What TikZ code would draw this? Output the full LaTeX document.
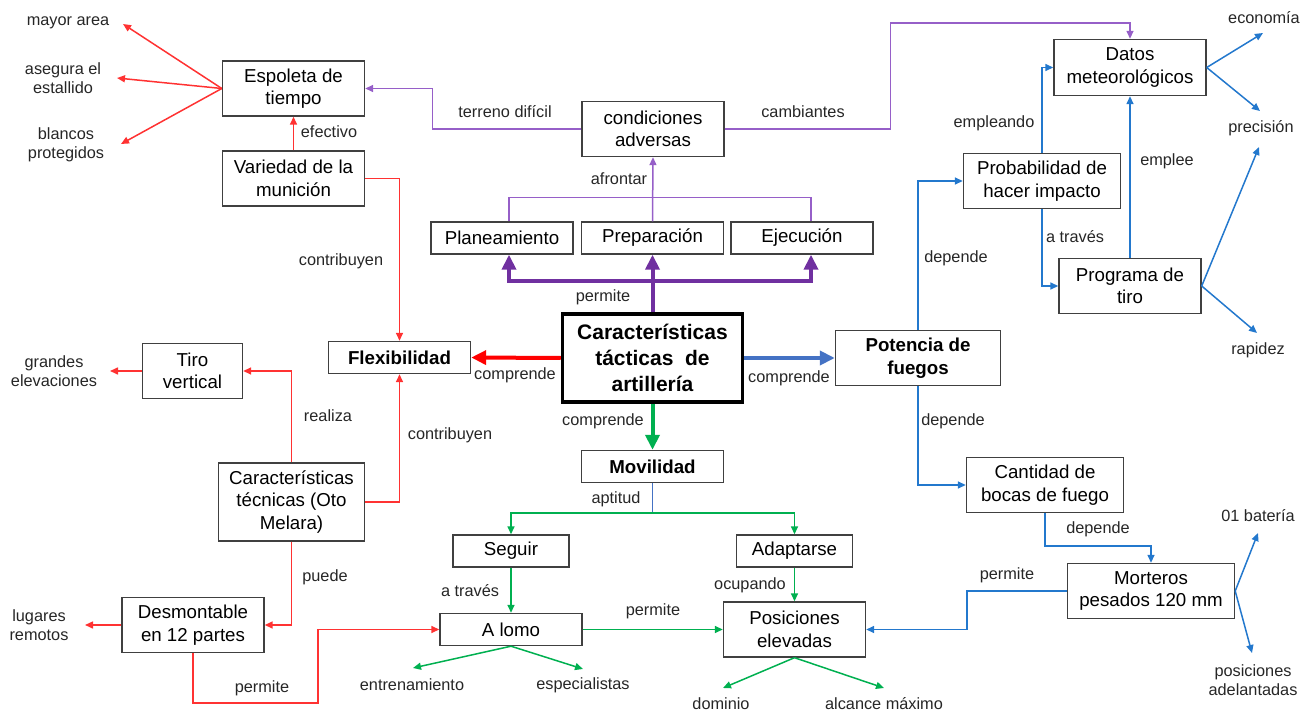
\documentclass[tikz,border=0pt]{standalone}
\usepackage{fontspec}
\setmainfont{Liberation Sans}
\usetikzlibrary{arrows.meta}

\definecolor{rojo}{RGB}{255,50,50}
\definecolor{rojofuerte}{RGB}{255,0,0}
\definecolor{lila}{RGB}{150,95,200}
\definecolor{morado}{RGB}{112,48,160}
\definecolor{azul}{RGB}{35,120,205}
\definecolor{azulfuerte}{RGB}{68,114,196}
\definecolor{verde}{RGB}{0,176,80}
\definecolor{borde}{RGB}{64,64,64}
\definecolor{texto}{RGB}{38,38,38}

\begin{document}
\begin{tikzpicture}[x=1pt, y=-1pt,
  box/.style={draw=borde, line width=1.4pt, align=center, inner sep=0pt,
    minimum width=142pt, minimum height=55pt, font=\fontsize{18.7}{22.5}\selectfont},
  slim/.style={box, minimum height=32pt},
  bold/.style={font=\fontsize{18.7}{22.5}\selectfont\bfseries},
  lbl/.style={text=texto, font=\fontsize{16.3}{19.5}\selectfont, align=center, inner sep=0pt},
  linea/.style={line width=1.5pt},
  flecha/.style={linea, -{Triangle[length=8pt,width=7pt]}},
  gruesa/.style={line width=4pt, -{Triangle[length=15pt,width=14pt]}},
]
  \useasboundingbox (0,0) rectangle (1312,711);

  % Boxes
  \node[box] (esp) at (293.5,88.5) {Espoleta de\\tiempo};
  \node[box] (var) at (293.5,178.5) {Variedad de la\\munición};
  \node[box] (cond) at (653,129) {condiciones\\adversas};
  \node[slim] (plan) at (502,238) {Planeamiento};
  \node[slim] (prep) at (652.5,238) {Preparación};
  \node[slim] (ejec) at (802,238) {Ejecución};
  \node[box, minimum width=180pt, minimum height=88pt, line width=3.5pt, draw=black,
    font=\fontsize{21}{26}\selectfont\bfseries] (cat) at (652.5,358)
    {Características\\tácticas\ \ de\\artillería};
  \node[slim, bold] (flex) at (399.5,357.5) {Flexibilidad};
  \node[box, bold, minimum width=165pt] (pot) at (918,358) {Potencia de\\fuegos};
  \node[slim, bold] (mov) at (652.5,466.5) {Movilidad};
  \node[box, minimum width=100pt] (tiro) at (192.5,371) {Tiro\\vertical};
  \node[box, minimum width=146pt, minimum height=78pt] (tec) at (291.5,502)
    {Características\\técnicas (Oto\\Melara)};
  \node[box] (des) at (193,625) {Desmontable\\en 12 partes};
  \node[slim, minimum width=116pt] (seg) at (511,551) {Seguir};
  \node[slim, minimum width=116pt] (ada) at (794.5,551) {Adaptarse};
  \node[slim] (lomo) at (511,629.5) {A lomo};
  \node[box] (pos) at (794.5,629.5) {Posiciones\\elevadas};
  \node[box, minimum width=157pt] (cant) at (1045,485) {Cantidad de\\bocas de fuego};
  \node[box, minimum width=167pt] (mort) at (1151,591) {Morteros\\pesados 120 mm};
  \node[box, minimum width=157pt] (prob) at (1042,181) {Probabilidad de\\hacer impacto};
  \node[box, minimum width=152pt, minimum height=56pt] (datos) at (1130,67.5) {Datos\\meteorológicos};
  \node[box] (prog) at (1130,286) {Programa de\\tiro};

  % Loose ends
  \node[lbl] (mayor) at (68,23) {mayor area};
  \node[lbl] (asegura) at (63,78) {asegura el\\estallido};
  \node[lbl] (blancos) at (66,145) {blancos\\protegidos};
  \node[lbl] (grandes) at (54,371) {grandes\\elevaciones};
  \node[lbl] (lugares) at (39,625) {lugares\\remotos};
  \node[lbl] (entren) at (412,685) {entrenamiento};
  \node[lbl] (espec) at (583,685) {especialistas};
  \node[lbl] (dominio) at (721,704) {dominio};
  \node[lbl] (alcance) at (884,704) {alcance máximo};
  \node[lbl] (bateria) at (1258,516) {01 batería};
  \node[lbl] (adelant) at (1253,680) {posiciones\\adelantadas};
  \node[lbl] (econ) at (1264,18) {economía};
  \node[lbl] (precis) at (1261,128) {precisión};
  \node[lbl] (rapidez) at (1258,350) {rapidez};

  \coordinate (tMayor) at (123,24);
  \coordinate (tAsegura) at (117,78);
  \coordinate (tBlancos) at (121,144);
  \coordinate (tGrandes) at (110,371);
  \coordinate (tLugares) at (85,625);
  \coordinate (tEntren) at (413,668);
  \coordinate (tEspec) at (583,669);
  \coordinate (tDominio) at (723,688);
  \coordinate (tAlcance) at (884,688);
  \coordinate (tBateria) at (1258,533);
  \coordinate (tAdelant) at (1252,653);
  \coordinate (tEcon) at (1263,33);
  \coordinate (tPrecisA) at (1260,111);
  \coordinate (tPrecisB) at (1259,147);
  \coordinate (tRapidez) at (1257,333);

  % Link labels
  \node[lbl] (lEfectivo) at (329,132) {efectivo};
  \node[lbl] (lContribA) at (341,261) {contribuyen};
  \node[lbl] (lContribB) at (450,435) {contribuyen};
  \node[lbl] (lRealiza) at (328,416) {realiza};
  \node[lbl] (lPuede) at (325,577) {puede};
  \node[lbl] (lPermiteA) at (262,688) {permite};
  \node[lbl] (lTerreno) at (505,112) {terreno difícil};
  \node[lbl] (lCambiantes) at (803,112) {cambiantes};
  \node[lbl] (lAfrontar) at (619,179) {afrontar};
  \node[lbl] (lPermiteB) at (603,297) {permite};
  \node[lbl] (lCompA) at (515,375) {comprende};
  \node[lbl] (lCompB) at (789,378) {comprende};
  \node[lbl] (lCompC) at (603,421) {comprende};
  \node[lbl] (lAptitud) at (616,499) {aptitud};
  \node[lbl] (lTravesA) at (470,591) {a través};
  \node[lbl] (lOcupando) at (750,585) {ocupando};
  \node[lbl] (lPermiteC) at (653,611) {permite};
  \node[lbl] (lPermiteD) at (1007,575) {permite};
  \node[lbl] (lDependeA) at (956,258) {depende};
  \node[lbl] (lDependeB) at (953,421) {depende};
  \node[lbl] (lDependeC) at (1098,529) {depende};
  \node[lbl] (lEmpleando) at (994,123) {empleando};
  \node[lbl] (lTravesB) at (1075,237) {a través};
  \node[lbl] (lEmplee) at (1167,161) {emplee};

  % Thick links from the centre
  \draw[gruesa, rojofuerte] (cat.west) -- (flex.east);
  \draw[gruesa, azulfuerte] (cat.east) -- (pot.west);
  \draw[gruesa, verde] (cat.south) -- (mov.north);
  \draw[gruesa, morado] (cat.north) -- (prep.south);
  \draw[line width=4pt, morado, {Triangle[length=15pt,width=14pt]}-{Triangle[length=15pt,width=14pt]}]
    ([xshift=7pt]plan.south) |- ([yshift=-26pt]prep.south) -| ([xshift=9pt]ejec.south);

  % Red links
  \draw[flecha, rojo] (var.north) -- (esp.south);
  \draw[flecha, rojo] (esp.west) -- (tMayor);
  \draw[flecha, rojo] (esp.west) -- (tAsegura);
  \draw[flecha, rojo] (esp.west) -- (tBlancos);
  \draw[flecha, rojo] (var.east) -| (flex.north);
  \draw[flecha, rojo] (tec.east) -| (flex.south);
  \draw[flecha, rojo] (tec.north) |- (tiro.east);
  \draw[flecha, rojo] (tec.south) |- (des.east);
  \draw[flecha, rojo] (tiro.west) -- (tGrandes);
  \draw[flecha, rojo] (des.west) -- (tLugares);
  \draw[flecha, rojo] (des.south) -- ++(0,50) -- ++(125,0) |- (lomo.west);

  % Purple links
  \draw[flecha, lila] (cond.west) -- ++(-149,0) |- (esp.east);
  \draw[flecha, lila] (cond.east) -- ++(166,0) |- ([yshift=16pt]datos.north) -- (datos.north);
  \draw[linea, lila] ([xshift=7pt]plan.north) -- ++(0,-24) -| ([xshift=9pt]ejec.north);
  \draw[flecha, lila] (prep.north) -- (cond.south);

  % Green links
  \draw[linea, azulfuerte] (mov.south) -- ++(0,30) coordinate (mvj);
  \draw[flecha, verde] (mvj) -| (seg.north);
  \draw[flecha, verde] (mvj) -| (ada.north);
  \draw[flecha, verde] (seg.south) -- (lomo.north);
  \draw[flecha, verde] (ada.south) -- (pos.north);
  \draw[flecha, verde] (lomo.east) -- (pos.west);
  \draw[flecha, verde] (lomo.south) -- (tEntren);
  \draw[flecha, verde] (lomo.south) -- (tEspec);
  \draw[flecha, verde] (pos.south) -- (tDominio);
  \draw[flecha, verde] (pos.south) -- (tAlcance);

  % Blue links
  \draw[flecha, azul] (pot.north) |- (prob.west);
  \draw[flecha, azul] (pot.south) |- (cant.west);
  \draw[flecha, azul] (cant.south) -- ++(0,33) -| (mort.north);
  \draw[flecha, azul] (mort.west) -- ++(-100,0) |- (pos.east);
  \draw[flecha, azul] (prob.north) |- (datos.west);
  \draw[flecha, azul] (prob.south) |- (prog.west);
  \draw[flecha, azul] (prog.north) -- (datos.south);
  \draw[flecha, azul] (datos.east) -- (tEcon);
  \draw[flecha, azul] (datos.east) -- (tPrecisA);
  \draw[flecha, azul] (prog.east) -- (tPrecisB);
  \draw[flecha, azul] (prog.east) -- (tRapidez);
  \draw[flecha, azul] (mort.east) -- (tBateria);
  \draw[flecha, azul] (mort.east) -- (tAdelant);
\end{tikzpicture}
\end{document}
